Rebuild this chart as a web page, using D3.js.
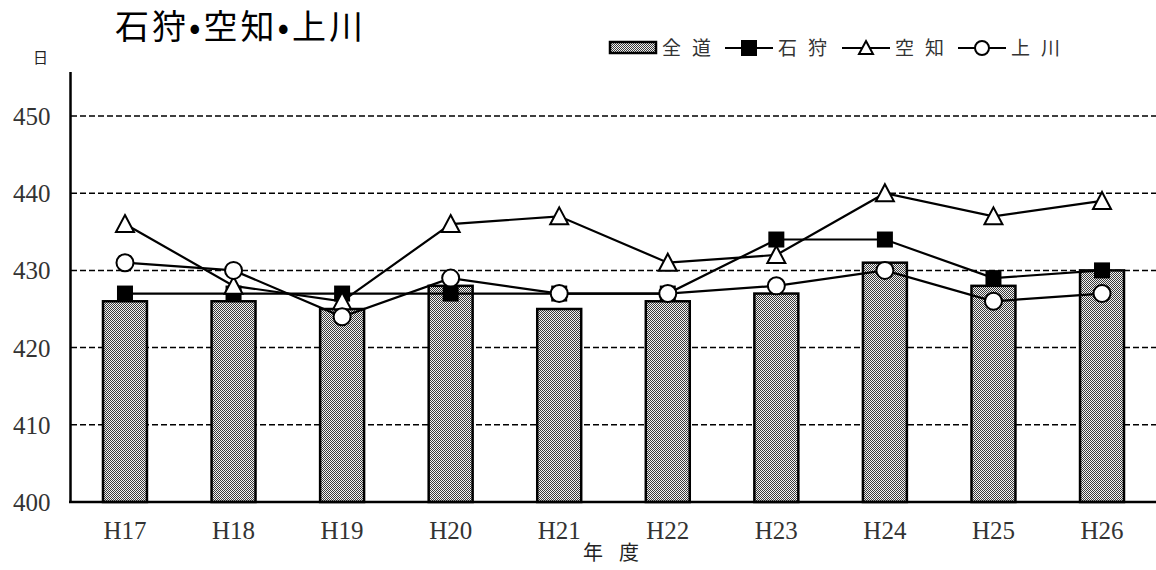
<!DOCTYPE html>
<html><head><meta charset="utf-8">
<script src="https://cdn.jsdelivr.net/npm/d3@7"></script>
<style>body{margin:0;background:#fff}svg{display:block}</style>
</head><body>
<svg id="c" width="1156" height="570"></svg>
<script>
const categories = ["H17","H18","H19","H20","H21","H22","H23","H24","H25","H26"];
const zendo  = [426,426,425,428,425,426,427,431,428,430];
const ishikari = [427,427,427,427,427,427,434,434,429,430];
const sorachi  = [436,428,426,436,437,431,432,440,437,439];
const kamikawa = [431,430,424,429,427,427,428,430,426,427];
const yTicks = [400,410,420,430,440,450];

const svg = d3.select("#c");
const serif = "Liberation Serif, DejaVu Serif, serif";
const jp = "Noto Sans CJK JP, Noto Sans, sans-serif";

const defs = svg.append("defs");
const pat = defs.append("pattern").attr("id","chk").attr("patternUnits","userSpaceOnUse").attr("width",2).attr("height",2);
pat.append("rect").attr("width",2).attr("height",2).attr("fill","#f2f2f2");
pat.append("rect").attr("x",0).attr("y",0).attr("width",1).attr("height",1).attr("fill","#3a3a3a");
pat.append("rect").attr("x",1).attr("y",1).attr("width",1).attr("height",1).attr("fill","#3a3a3a");

const x = d3.scaleBand().domain(categories).range([70.7,1156.3]).paddingInner(0.595).paddingOuter(0.2975);
const y = d3.scaleLinear().domain([400,450]).range([502,116]);
const cx = d => x(d) + x.bandwidth()/2;

// gridlines
svg.append("g").selectAll("line").data(yTicks.filter(t=>t>400)).join("line")
  .attr("x1",71).attr("x2",1156).attr("y1",d=>y(d)).attr("y2",d=>y(d))
  .attr("stroke","#000").attr("stroke-width",1.5).attr("stroke-dasharray","6,3");

// bars
svg.append("g").selectAll("rect").data(categories).join("rect")
  .attr("x",d=>x(d)).attr("width",x.bandwidth())
  .attr("y",(d,i)=>y(zendo[i])).attr("height",(d,i)=>y(400)-y(zendo[i]))
  .attr("fill","url(#chk)").attr("stroke","#000").attr("stroke-width",2.5);

// axes
const yAxis = d3.axisLeft(y).tickValues(yTicks).tickSize(0).tickPadding(20).tickFormat(d3.format("d"));
const gy = svg.append("g").attr("transform","translate(70.5,0)").call(yAxis);
gy.attr("font-family",serif).attr("font-size",25);
gy.select(".domain").remove();
gy.selectAll("text").attr("font-family",serif).attr("font-size",25).attr("fill","#333").attr("dy","0.34em");
svg.append("line").attr("x1",70.5).attr("x2",70.5).attr("y1",72).attr("y2",503).attr("stroke","#000").attr("stroke-width",2.5);

const xAxis = d3.axisBottom(x).tickSize(0).tickPadding(19);
const gx = svg.append("g").attr("transform","translate(0,502)").call(xAxis);
gx.attr("font-family",serif).attr("font-size",25);
gx.select(".domain").remove();
gx.selectAll("text").attr("font-family",serif).attr("font-size",25).attr("fill","#333");
svg.append("line").attr("x1",69).attr("x2",1156).attr("y1",502).attr("y2",502).attr("stroke","#000").attr("stroke-width",2.5);

const line = d3.line().x((d,i)=>cx(categories[i])).y(d=>y(d));
function drawSeries(data, marker){
  svg.append("path").datum(data).attr("d",line).attr("fill","none").attr("stroke","#000").attr("stroke-width",2.2);
  const g = svg.append("g");
  data.forEach((v,i)=>marker(g, cx(categories[i]), y(v)));
}
function sq(g,px,py){ g.append("rect").attr("x",px-8).attr("y",py-8).attr("width",16).attr("height",16).attr("fill","#000"); }
function tri(g,px,py){ g.append("path").attr("d",`M${px},${py-9}L${px+9},${py+8}L${px-9},${py+8}Z`).attr("fill","#fff").attr("stroke","#000").attr("stroke-width",2); }
function circ(g,px,py){ g.append("circle").attr("cx",px).attr("cy",py).attr("r",8.5).attr("fill","#fff").attr("stroke","#000").attr("stroke-width",2); }

drawSeries(ishikari, sq);
drawSeries(sorachi, tri);
drawSeries(kamikawa, circ);

// title
svg.append("text").attr("x",115).attr("y",39).attr("font-family",jp).attr("font-size",34).attr("letter-spacing",3).attr("fill","#000").text("石狩•空知•上川");
svg.append("text").attr("x",33).attr("y",63).attr("font-family",jp).attr("font-size",15).attr("fill","#222").text("日");
svg.append("text").attr("x",583).attr("y",560).attr("font-family",jp).attr("font-size",20).attr("letter-spacing",16).attr("fill","#222").text("年度");

// legend
const lg = svg.append("g");
const ly = 48;
lg.append("rect").attr("x",610).attr("y",42).attr("width",46).attr("height",11).attr("fill","url(#chk)").attr("stroke","#000").attr("stroke-width",2.5);
const lt = (tx,t)=>lg.append("text").attr("x",tx).attr("y",ly+7).attr("font-family",jp).attr("font-size",19).attr("letter-spacing",11).attr("fill","#333").text(t);
lt(662,"全道");
const ll = (x1,x2,m)=>{ lg.append("line").attr("x1",x1).attr("x2",x2).attr("y1",ly).attr("y2",ly).attr("stroke","#000").attr("stroke-width",2.2); m(lg,(x1+x2)/2,ly); };
ll(725,773,sq); lt(778,"石狩");
ll(842,890,(g,px,py)=>g.append("path").attr("d",`M${px},${py-7}L${px+7},${py+6}L${px-7},${py+6}Z`).attr("fill","#fff").attr("stroke","#000").attr("stroke-width",2)); lt(895,"空知");
ll(958,1006,(g,px,py)=>g.append("circle").attr("cx",px).attr("cy",py).attr("r",7).attr("fill","#fff").attr("stroke","#000").attr("stroke-width",2)); lt(1011,"上川");
</script>
</body></html>
